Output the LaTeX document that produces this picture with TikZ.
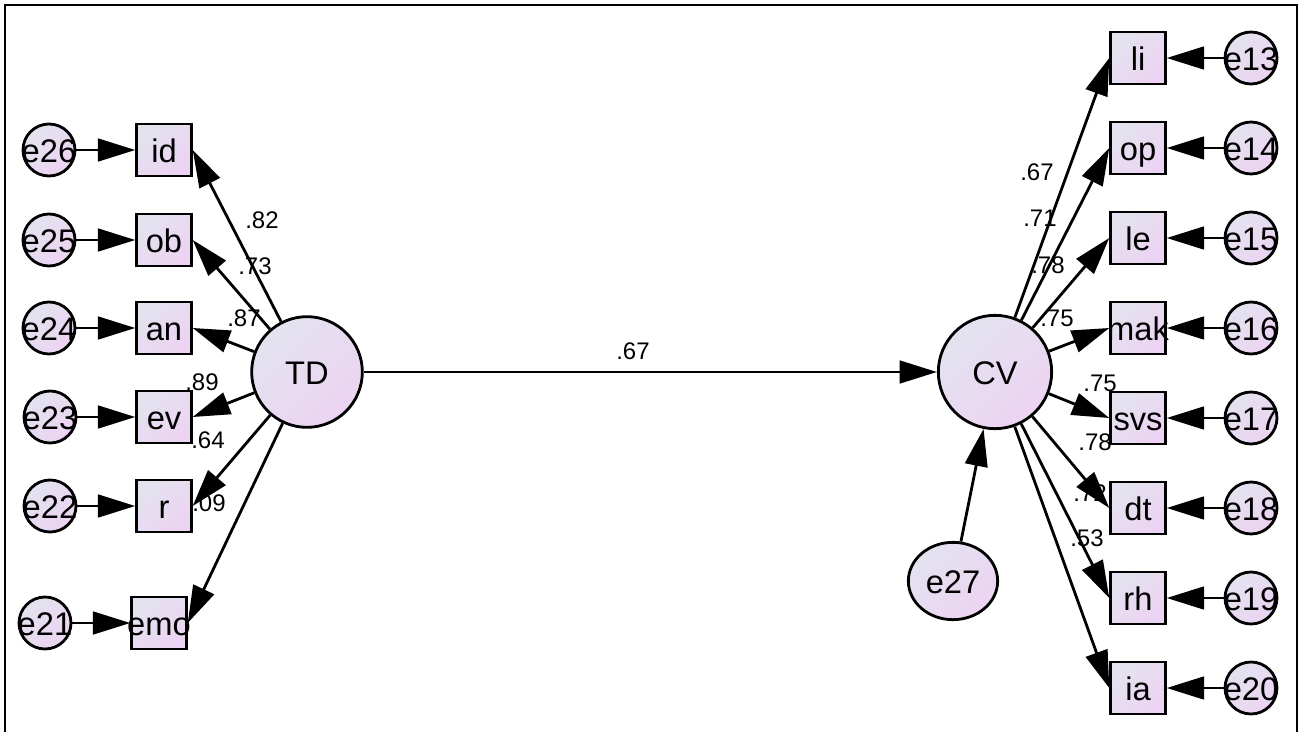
\documentclass[tikz,border=0pt]{standalone}
\usepackage{fontspec}
\setmainfont{Liberation Sans}
\usetikzlibrary{arrows.meta,shapes.geometric}
\definecolor{fillA}{RGB}{226,227,238}
\definecolor{fillB}{RGB}{237,211,243}
\newcommand\zwtext[1]{\makebox[0pt]{#1}}

\begin{document}
\begin{tikzpicture}[x=0.75pt,y=-0.75pt,
  base/.style={draw=black, line width=2.1pt, left color=fillA, right color=fillB,
    shading angle=45, inner sep=0pt, text height=18pt, text depth=0pt,
    font=\fontsize{24.5}{24.5}\selectfont},
  obs/.style={base, rectangle, minimum width=41pt, minimum height=39pt},
  err/.style={base, circle, minimum size=39pt},
  lat/.style={base, circle, minimum size=#1},
  link/.style={line width=2.1pt, -{Triangle[length=28pt,width=17pt]}},
  coef/.style={font=\fontsize{18}{18}\selectfont, inner sep=0pt},
]
\useasboundingbox (0,0) rectangle (1304,732);
% outer frame
\draw[line width=1.4pt] (5,5) rectangle (1297,745);

% path coefficients
\node[coef] (c1) at (262,220) {.82};
\node[coef] (c2) at (255,266) {.73};
\node[coef] (c3) at (244,318) {.87};
\node[coef] (c4) at (202,382) {.89};
\node[coef] (c5) at (208,440) {.64};
\node[coef] (c6) at (209,503) {.09};
\node[coef] (c7) at (633,351) {.67};
\node[coef] (c8) at (1037,172) {.67};
\node[coef] (c9) at (1040,218) {.71};
\node[coef] (c10) at (1048,265) {.78};
\node[coef] (c11) at (1057,318) {.75};
\node[coef] (c12) at (1100,383) {.75};
\node[coef] (c13) at (1095,442) {.78};
\node[coef] (c14) at (1090,493) {.72};
\node[coef] (c15) at (1087,538) {.53};

% latent variables
\node[lat=83pt] (TD) at (307,372) {TD};
\node[lat=85pt] (CV) at (995,372) {CV};
\node[base, ellipse, minimum width=67pt, minimum height=58pt] (e27) at (953,581) {e27};

% left indicators and their errors
\foreach \nm/\err/\y/\bx/\ex in {id/e26/150/164/49, ob/e25/240/164/49, an/e24/328/164/49,
    ev/e23/417/164/50, r/e22/506/164/50, emo/e21/623/159/45}{
  \node[obs] (\nm) at (\bx,\y) {\zwtext{\nm}};
  \node[err] (\err) at (\ex,\y) {\zwtext{\err}};
}

% right indicators and their errors
\foreach \nm/\err/\y in {li/e13/58, op/e14/148, le/e15/238, mak/e16/328,
    svs/e17/418, dt/e18/508, rh/e19/598, ia/e20/688}{
  \node[obs] (\nm) at (1138,\y) {\zwtext{\nm}};
  \node[err] (\err) at (1251,\y) {\zwtext{\err}};
}

% structural paths
\draw[link] (TD) -- (CV);
\draw[link] (e27) -- (CV);

% loadings
\foreach \nm in {id,ob,an,ev,r,emo}{
  \draw[link] (TD) -- (\nm.east);
}
\foreach \nm in {li,op,le,mak,svs,dt,rh,ia}{
  \draw[link] (CV) -- (\nm.west);
}

% error terms
\foreach \nm/\err in {id/e26, ob/e25, an/e24, ev/e23, r/e22, emo/e21}{
  \draw[link] (\err) -- (\nm.west);
}
\foreach \nm/\err in {li/e13, op/e14, le/e15, mak/e16, svs/e17, dt/e18, rh/e19, ia/e20}{
  \draw[link] (\err) -- (\nm.east);
}
\end{tikzpicture}
\end{document}
